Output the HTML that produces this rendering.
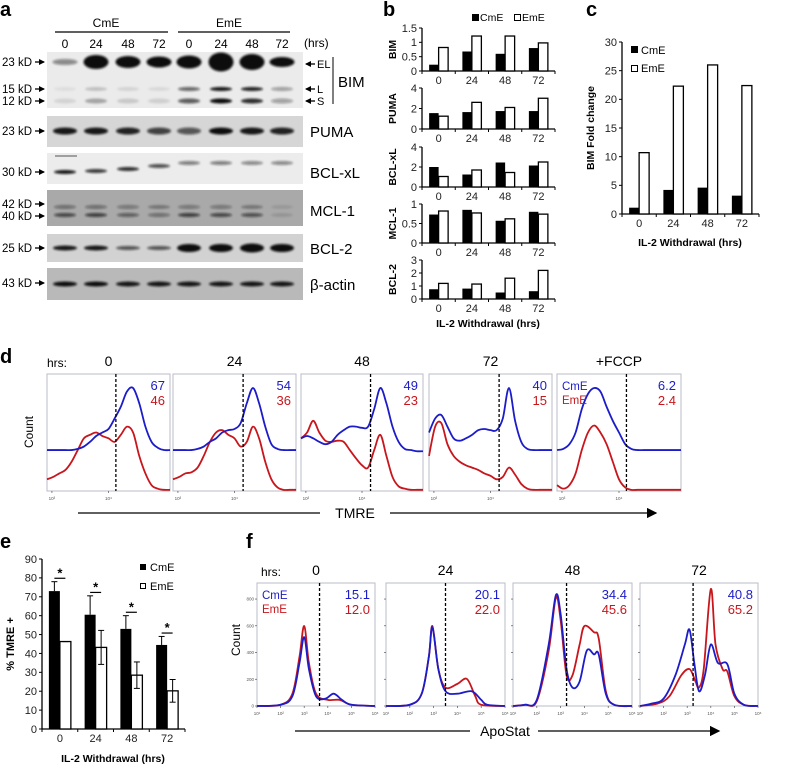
<!DOCTYPE html>
<html><head><meta charset="utf-8">
<style>
html,body{margin:0;padding:0;background:#fff;}
svg{display:block;font-family:"Liberation Sans",Arial,sans-serif;}
</style></head>
<body>
<svg id="fig" width="787" height="768" viewBox="0 0 787 768" xmlns="http://www.w3.org/2000/svg">
<defs>
<filter id="blur" x="-50%" y="-100%" width="200%" height="300%"><feGaussianBlur stdDeviation="1.1"/></filter>
<marker id="arrowHead" markerWidth="8" markerHeight="8" refX="7" refY="4" orient="auto"><path d="M0,0 L8,4 L0,8 Z" fill="#000"/></marker>
<marker id="smallHead" markerWidth="6" markerHeight="6" refX="5" refY="3" orient="auto" markerUnits="userSpaceOnUse"><path d="M0,0 L6,3 L0,6 Z" fill="#000"/></marker>
</defs>
</svg>
<script>
// ---------- DATA ----------
const hours = ["0","24","48","72"];
// panel b
const bimCm = [0.22,0.68,0.6,0.8],  bimEm = [0.82,1.22,1.22,0.98];
const pumaCm = [1.55,1.65,1.75,1.75], pumaEm = [1.25,2.6,2.1,3.0];
const bclxlCm = [2.0,1.25,2.45,2.15], bclxlEm = [1.05,1.7,1.45,2.5];
const mcl1Cm = [0.73,0.85,0.57,0.8], mcl1Em = [0.82,0.77,0.62,0.74];
const bcl2Cm = [0.75,0.8,0.5,0.6], bcl2Em = [1.2,1.15,1.6,2.2];
const bimTicks = [0,0.5,1,1.5], bimTickLabels = ["0","0.5","1","1.5"];
const pumaTicks = [0,2,4], pumaTickLabels = ["0","2","4"];
const bclxlTicks = [0,2,4], bclxlTickLabels = ["0","2","4"];
const mcl1Ticks = [0,0.5,1], mcl1TickLabels = ["0","0.5","1"];
const bcl2Ticks = [0,1,2,3], bcl2TickLabels = ["0","1","2","3"];
// panel c
const foldCm = [1.1,4.2,4.6,3.2], foldEm = [10.7,22.3,26,22.4];
const foldTicks = [0,5,10,15,20,25,30], foldTickLabels = ["0","5","10","15","20","25","30"];
// panel e
const tmreCm = [73,60.5,53,44.5], tmreCmErr = [5,10,7,4.5];
const tmreEm = [46.3,43.2,28.5,20.2], tmreEmErr = [0,9,7,6];
const tmreTicks = [0,10,20,30,40,50,60,70,80,90], tmreTickLabels = ["0","10","20","30","40","50","60","70","80","90"];
// panel d
const dTitles = ["0","24","48","72","+FCCP"];
const dCmPct = ["67","54","49","40","6.2"], dEmPct = ["46","36","23","15","2.4"];
const dGate = [0.56,0.57,0.57,0.57,0.56];
const dBlue0 = [0.35,0.35,0.35,0.35,0.35,0.36,0.38,0.42,0.47,0.5,0.53,0.62,0.72,0.85,0.88,0.75,0.55,0.42,0.37,0.35,0.35];
const dRed0  = [0.1,0.12,0.15,0.18,0.25,0.35,0.45,0.48,0.5,0.47,0.45,0.42,0.48,0.55,0.5,0.3,0.15,0.05,0.02,0.01,0.01];
const dBlue24= [0.35,0.35,0.35,0.35,0.36,0.38,0.42,0.45,0.5,0.52,0.53,0.58,0.75,0.88,0.75,0.55,0.4,0.36,0.35,0.35,0.35];
const dRed24 = [0.1,0.12,0.15,0.16,0.2,0.3,0.42,0.5,0.52,0.48,0.45,0.38,0.42,0.55,0.45,0.25,0.1,0.03,0.01,0.01,0.01];
const dBlue48= [0.45,0.47,0.45,0.42,0.4,0.42,0.48,0.52,0.55,0.55,0.54,0.55,0.7,0.88,0.75,0.55,0.42,0.36,0.35,0.34,0.34];
const dRed48 = [0.45,0.5,0.6,0.5,0.43,0.42,0.43,0.42,0.35,0.28,0.22,0.2,0.35,0.48,0.3,0.12,0.04,0.02,0.01,0.01,0.01];
const dBlue72= [0.5,0.62,0.65,0.55,0.45,0.43,0.45,0.48,0.52,0.53,0.52,0.52,0.62,0.88,0.6,0.42,0.36,0.35,0.35,0.35,0.35];
const dRed72 = [0.3,0.55,0.58,0.4,0.3,0.25,0.22,0.2,0.18,0.15,0.13,0.1,0.12,0.2,0.14,0.06,0.02,0.01,0.01,0.01,0.01];
const dBlueF = [0.35,0.36,0.4,0.5,0.7,0.83,0.88,0.85,0.72,0.6,0.5,0.4,0.36,0.35,0.35,0.35,0.35,0.35,0.35,0.35,0.35];
const dRedF  = [0.05,0.02,0.05,0.15,0.35,0.5,0.56,0.5,0.4,0.25,0.1,0.03,0.01,0.01,0.01,0.01,0.01,0.01,0.01,0.01,0.01];
// panel f
const fTitles = ["0","24","48","72"];
const fCmPct = ["15.1","20.1","34.4","40.8"], fEmPct = ["12.0","22.0","45.6","65.2"];
const fGate = [0.53,0.5,0.45,0.45];
const fBlue0 = [[0,0],[0.2,0.01],[0.3,0.08],[0.36,0.35],[0.4,0.56],[0.44,0.3],[0.5,0.08],[0.58,0.06],[0.65,0.1],[0.72,0.05],[0.8,0.01],[1,0]];
const fRed0  = [[0,0],[0.2,0.01],[0.3,0.1],[0.36,0.4],[0.4,0.65],[0.44,0.35],[0.5,0.1],[0.6,0.05],[0.7,0.05],[0.8,0.01],[1,0]];
const fBlue24= [[0,0],[0.2,0.01],[0.3,0.1],[0.36,0.4],[0.39,0.64],[0.44,0.3],[0.5,0.12],[0.6,0.1],[0.72,0.12],[0.8,0.05],[0.85,0.01],[1,0]];
const fRed24 = [[0,0],[0.2,0.01],[0.3,0.1],[0.36,0.4],[0.39,0.65],[0.44,0.3],[0.5,0.15],[0.6,0.18],[0.68,0.22],[0.75,0.08],[0.8,0.01],[1,0]];
const fBlue48= [[0,0],[0.1,0.01],[0.2,0.05],[0.3,0.5],[0.36,0.9],[0.4,0.75],[0.45,0.3],[0.5,0.15],[0.56,0.2],[0.62,0.45],[0.68,0.42],[0.72,0.42],[0.78,0.1],[0.85,0.01],[1,0]];
const fRed48 = [[0,0],[0.1,0.01],[0.2,0.04],[0.3,0.45],[0.36,0.88],[0.4,0.7],[0.45,0.25],[0.5,0.25],[0.56,0.5],[0.6,0.65],[0.68,0.6],[0.72,0.55],[0.78,0.12],[0.85,0.01],[1,0]];
const fBlue72= [[0,0],[0.1,0.02],[0.2,0.06],[0.3,0.25],[0.38,0.5],[0.42,0.62],[0.46,0.35],[0.5,0.12],[0.55,0.25],[0.6,0.5],[0.66,0.35],[0.74,0.34],[0.8,0.1],[0.88,0.01],[1,0]];
const fRed72 = [[0,0],[0.15,0.02],[0.25,0.08],[0.35,0.25],[0.42,0.3],[0.47,0.2],[0.5,0.15],[0.54,0.3],[0.6,0.95],[0.64,0.5],[0.7,0.3],[0.74,0.28],[0.8,0.08],[0.88,0.01],[1,0]];
// panel a
const laneLabels = ["0","24","48","72","0","24","48","72"];
const bimEL = [0.45,1,1,1,1,1,1,1], bimELh = [6,14,12,11,13,19,16,10];
const bimL = [0.06,0.18,0.1,0.08,0.6,0.95,0.9,0.35];
const bimS = [0.1,0.3,0.15,0.12,0.65,1,0.85,0.35];
const puma = [0.95,0.95,0.9,0.75,0.65,1,0.95,0.9];
const bclxl = [0.95,0.8,0.85,0.7,0.5,0.5,0.45,0.45];
const mcl42 = [0.4,0.4,0.35,0.3,0.35,0.35,0.3,0.1];
const mcl40 = [0.65,0.7,0.5,0.4,0.7,0.65,0.6,0.12];
const bcl2 = [0.95,0.95,0.65,0.65,1,1,1,1];
const actin = [1,1,0.95,0.95,0.95,0.95,0.95,0.95];

// ---------- HELPERS ----------
const NS = "http://www.w3.org/2000/svg";
const svg = document.getElementById("fig");
function mk(tag, attrs, parent){
  const e = document.createElementNS(NS, tag);
  for (const k in attrs) e.setAttribute(k, attrs[k]);
  (parent || svg).appendChild(e);
  return e;
}
function txt(x,y,s,size,opts,parent){
  const o = Object.assign({x:x,y:y,"font-size":size,fill:"#000"}, opts||{});
  const t = mk("text", o, parent);
  t.textContent = s;
  return t;
}
function group(name){
  const g = mk("g", {});
  
  
  return g;
}

[["a",0,16],["b",383,16],["c",586,16],["d",0,363],["e",0,548],["f",246,548]].forEach(p=>{
  const t = txt(p[1],p[2],p[0],20,{"font-weight":"bold"});
  
  
});

// ---------- PANEL A ----------
(function(){
  const g = group("western-blot-panel");
  const laneX = [65,96,128,159,189,221,252,282];
  txt(106,27,"CmE",12,{"text-anchor":"middle"},g);
  txt(229,27,"EmE",12,{"text-anchor":"middle"},g);
  mk("line",{x1:55,y1:32,x2:168,y2:32,stroke:"#000","stroke-width":1.2},g);
  mk("line",{x1:178,y1:32,x2:290,y2:32,stroke:"#000","stroke-width":1.2},g);
  laneLabels.forEach((l,i)=>txt(laneX[i],48,l,12,{"text-anchor":"middle"},g));
  txt(304,47,"(hrs)",12,{},g);
  function blot(name,y0,y1,bg){
    const r = mk("rect",{x:47,y:y0,width:256,height:y1-y0,fill:bg},g);
    
    
  }
  function bands(vals,yc,h,w,ys){
    vals.forEach((v,i)=>{
      const hh = Array.isArray(h)? h[i] : h;
      const y = Array.isArray(ys)? ys[i] : yc;
      const e = mk("ellipse",{cx:laneX[i],cy:y,rx:w/2,ry:hh/2,fill:"#111","fill-opacity":v,filter:"url(#blur)"},g);
      
      
    });
  }
  function marker(label,y){
    txt(2,y+4,label,11.5,{},g);
    mk("line",{x1:35,y1:y,x2:44,y2:y,stroke:"#000","stroke-width":1.3,"marker-end":"url(#smallHead)"},g);
  }
  blot("bim-blot",52,108,"#ebebeb");
  bands(bimEL,62,bimELh,25);
  bands(bimL,89,4,22);
  bands(bimS,101,5,22);
  marker("23 kD",62); marker("15 kD",89); marker("12 kD",101);
  [["EL",64],["L",89],["S",101]].forEach(p=>{
    mk("line",{x1:315,y1:p[1],x2:306,y2:p[1],stroke:"#000","stroke-width":1.3,"marker-end":"url(#smallHead)"},g);
    txt(317,p[1]+4,p[0],11,{},g);
  });
  mk("line",{x1:333,y1:57,x2:333,y2:104,stroke:"#000","stroke-width":1},g);
  txt(338,87,"BIM",15,{},g);

  blot("puma-blot",116,147,"#d6d6d6");
  bands(puma,131,7,24);
  marker("23 kD",131); txt(310,137,"PUMA",15,{},g);

  blot("bclxl-blot",153,184,"#ececec");
  bands(bclxl,0,4,22,[172,171,169,166,163,163,163,163]);
  mk("line",{x1:55,y1:156,x2:77,y2:156,stroke:"#555","stroke-width":1},g);
  marker("30 kD",172); txt(310,178,"BCL-xL",15,{},g);

  blot("mcl1-blot",190,226,"#a9a9a9");
  bands(mcl42,207,4,22); bands(mcl40,215,4,22);
  marker("42 kD",204); marker("40 kD",216); txt(310,216,"MCL-1",15,{},g);

  blot("bcl2-blot",234,262,"#d2d2d2");
  bands(bcl2,248,[5,5,4,4,8,8,9,8],24);
  marker("25 kD",248); txt(310,254,"BCL-2",15,{},g);

  blot("actin-blot",268,300,"#b9b9b9");
  bands(actin,284,5,24);
  marker("43 kD",283); txt(310,290,"β-actin",15,{},g);
})();

// ---------- BAR CHART HELPER ----------
function barChart(o){
  const g = group(o.name);
  const yScale = v => o.y0 - (v/o.max)*(o.y0-o.yTop);
  const cw = (o.x1-o.x0)/o.cats.length;
  const xC = i => o.x0 + cw*(i+0.5);
  mk("line",{x1:o.x0,y1:o.yTop,x2:o.x0,y2:o.y0,stroke:"#000","stroke-width":1.3},g);
  mk("line",{x1:o.x0,y1:o.y0,x2:o.x1,y2:o.y0,stroke:"#000","stroke-width":1.3},g);
  o.ticks.forEach((t,i)=>{
    const y = yScale(t);
    mk("line",{x1:o.x0-3,y1:y,x2:o.x0,y2:y,stroke:"#000","stroke-width":1},g);
    txt(o.x0-5,y+o.fs*0.35,o.tickLabels[i],o.fs,{"text-anchor":"end",fill:"#222"},g);
  });
  for(let i=0;i<=o.cats.length;i++){
    mk("line",{x1:o.x0+cw*i,y1:o.y0,x2:o.x0+cw*i,y2:o.y0+3,stroke:"#000","stroke-width":1},g);
  }
  o.cats.forEach((c,i)=>{
    txt(xC(i),o.y0+o.fs+2,c,o.fs,{"text-anchor":"middle",fill:"#222"},g);
    const b1 = mk("rect",{x:xC(i)-o.bw,y:yScale(o.cm[i]),width:o.bw,height:o.y0-yScale(o.cm[i]),fill:"#000"},g);
    
    
    const b2 = mk("rect",{x:xC(i),y:yScale(o.em[i]),width:o.bw,height:o.y0-yScale(o.em[i]),fill:"#fff",stroke:"#000","stroke-width":1.3},g);
    
    
    if(o.cmErr){
      const xa = xC(i)-o.bw/2, ya = yScale(o.cm[i]), yb = yScale(o.cm[i]+o.cmErr[i]);
      mk("line",{x1:xa,y1:ya,x2:xa,y2:yb,stroke:"#000","stroke-width":1},g);
      mk("line",{x1:xa-3,y1:yb,x2:xa+3,y2:yb,stroke:"#000","stroke-width":1},g);
      const xe = xC(i)+o.bw/2, ye1 = yScale(o.em[i]-o.emErr[i]), ye2 = yScale(o.em[i]+o.emErr[i]);
      mk("line",{x1:xe,y1:ye1,x2:xe,y2:ye2,stroke:"#000","stroke-width":1},g);
      mk("line",{x1:xe-3,y1:ye1,x2:xe+3,y2:ye1,stroke:"#000","stroke-width":1},g);
      mk("line",{x1:xe-3,y1:ye2,x2:xe+3,y2:ye2,stroke:"#000","stroke-width":1},g);
      const ys = yScale(o.cm[i]+o.cmErr[i]+1.8);
      mk("line",{x1:xa,y1:ys,x2:xe,y2:ys,stroke:"#000","stroke-width":1.2},g);
      txt((xa+xe)/2,ys-1,"*",13,{"text-anchor":"middle","font-weight":"bold"},g);
    }
  });
  if(o.ylabel){
    const cy = (o.yTop+o.y0)/2;
    const t = txt(o.ylx,cy,o.ylabel,o.ylfs||10.5,{"text-anchor":"middle","font-weight":"bold",transform:`rotate(-90 ${o.ylx} ${cy})`},g);
    
    
  }
  return g;
}

// ---------- PANEL B ----------
const bSpecs = [
 ["bim-chart",28,71,1.5,bimCm,bimEm,bimTicks,bimTickLabels,"BIM"],
 ["puma-chart",88,129,4,pumaCm,pumaEm,pumaTicks,pumaTickLabels,"PUMA"],
 ["bclxl-chart",147,187,4,bclxlCm,bclxlEm,bclxlTicks,bclxlTickLabels,"BCL-xL"],
 ["mcl1-chart",204,243,1,mcl1Cm,mcl1Em,mcl1Ticks,mcl1TickLabels,"MCL-1"],
 ["bcl2-chart",260,299,3,bcl2Cm,bcl2Em,bcl2Ticks,bcl2TickLabels,"BCL-2"]];
bSpecs.forEach(s=>barChart({name:s[0],x0:422,x1:555,yTop:s[1],y0:s[2],max:s[3],cm:s[4],em:s[5],ticks:s[6],tickLabels:s[7],cats:hours,bw:9.5,fs:11,ylabel:s[8],ylx:396,ylfs:10.5}));
(function(){
  const g = group("panel-b-legend");
  mk("rect",{x:472,y:14,width:7,height:7,fill:"#000"},g); txt(480,21,"CmE",10.5,{},g);
  mk("rect",{x:514.5,y:14.5,width:6,height:6,fill:"#fff",stroke:"#000"},g); txt(522,21,"EmE",10.5,{},g);
  const t = txt(488,327,"IL-2 Withdrawal (hrs)",10.5,{"text-anchor":"middle","font-weight":"bold"},g);
  
  
})();

// ---------- PANEL C ----------
barChart({name:"bim-fold-chart",x0:622,x1:759,yTop:42,y0:214,max:30,cm:foldCm,em:foldEm,ticks:foldTicks,tickLabels:foldTickLabels,cats:hours,bw:10,fs:11,ylabel:"BIM Fold change",ylx:594,ylfs:10.5});
(function(){
  const g = group("panel-c-legend");
  mk("rect",{x:631,y:46,width:7,height:7,fill:"#000"},g); txt(641,54,"CmE",11,{},g);
  mk("rect",{x:631.5,y:65.5,width:6,height:6,fill:"#fff",stroke:"#000"},g); txt(641,72,"EmE",11,{},g);
  txt(690,246,"IL-2 Withdrawal (hrs)",10.5,{"text-anchor":"middle","font-weight":"bold"},g);
})();

// ---------- PANEL E ----------
barChart({name:"tmre-percent-chart",x0:42,x1:185,yTop:559,y0:729,max:90,cm:tmreCm,em:tmreEm,cmErr:tmreCmErr,emErr:tmreEmErr,ticks:tmreTicks,tickLabels:tmreTickLabels,cats:hours,bw:11,fs:11,ylabel:"% TMRE +",ylx:14,ylfs:11});
(function(){
  const g = group("panel-e-legend");
  mk("rect",{x:140,y:564,width:6,height:6,fill:"#000"},g); txt(150,571,"CmE",11,{},g);
  mk("rect",{x:140.5,y:583.5,width:5,height:5,fill:"#fff",stroke:"#000"},g); txt(150,590,"EmE",11,{},g);
  txt(113,762,"IL-2 Withdrawal (hrs)",10.5,{"text-anchor":"middle","font-weight":"bold"},g);
})();

// ---------- HISTOGRAM HELPER ----------
function smoothPath(pts){
  let d = `M${pts[0][0]},${pts[0][1]}`;
  for(let i=0;i<pts.length-1;i++){
    const p0 = pts[i-1]||pts[i], p1 = pts[i], p2 = pts[i+1], p3 = pts[i+2]||p2;
    const c1 = [p1[0]+(p2[0]-p0[0])/6, p1[1]+(p2[1]-p0[1])/6];
    const c2 = [p2[0]-(p3[0]-p1[0])/6, p2[1]-(p3[1]-p1[1])/6];
    d += ` C${c1[0]},${c1[1]} ${c2[0]},${c2[1]} ${p2[0]},${p2[1]}`;
  }
  return d;
}
function histo(o){
  const g = group(o.name);
  const w = o.x1-o.x0, h = o.y1-o.y0;
  mk("rect",{x:o.x0,y:o.y0,width:w,height:h,fill:"#fff",stroke:"#b8bcc8","stroke-width":1},g);
  const sx = f => o.x0 + f*w, sy = f => o.y1 - f*h;
  [[o.red,"#c8161d","red-histogram"],[o.blue,"#1c1cc8","blue-histogram"]].forEach(c=>{
    const arr = c[0];
    const pts = arr.map((v,i)=> Array.isArray(v) ? [sx(v[0]),sy(v[1])] : [sx(i/(arr.length-1)),sy(v)]);
    const p = mk("path",{d:smoothPath(pts),fill:"none",stroke:c[1],"stroke-width":1.8,"stroke-linejoin":"round"},g);
    
    
  });
  mk("line",{x1:sx(o.gate),y1:o.y0,x2:sx(o.gate),y2:o.y1,stroke:"#000","stroke-width":1.3,"stroke-dasharray":"3,2"},g);
  txt(o.x0+w/2,o.y0-8,o.title,14,{"text-anchor":"middle"},g);
  txt(o.x1-5,o.y0+16,o.cmPct,13,{"text-anchor":"end",fill:"#1c1cc8"},g);
  txt(o.x1-5,o.y0+31,o.emPct,13,{"text-anchor":"end",fill:"#c8161d"},g);
  o.xTicks.forEach((t,i)=>{
    const x = sx(t);
    mk("line",{x1:x,y1:o.y1,x2:x,y2:o.y1+2,stroke:"#555","stroke-width":0.7},g);
    txt(x,o.y1+9,o.xTickLabels[i],4.5,{"text-anchor":"middle",fill:"#555"},g);
  });
  if(o.legend){
    txt(o.x0+5,o.y0+16,"CmE",11.5,{fill:"#1c1cc8"},g);
    txt(o.x0+5,o.y0+30,"EmE",11.5,{fill:"#c8161d"},g);
  }
  if(o.yTicks){
    o.yTicks.forEach((t,i)=>{
      const y = o.y1 - t/o.yMax*h;
      mk("line",{x1:o.x0-2,y1:y,x2:o.x0,y2:y,stroke:"#555","stroke-width":0.7},g);
      if(o.yTickLabels) txt(o.x0-3,y+1.5,o.yTickLabels[i],4.5,{"text-anchor":"end",fill:"#555"},g);
    });
  }
}

// ---------- PANEL D ----------
const dBoxes = [[47,170],[173,296],[301,423],[429,552],[557,681]];
const dBlues = [dBlue0,dBlue24,dBlue48,dBlue72,dBlueF], dReds = [dRed0,dRed24,dRed48,dRed72,dRedF];
dBoxes.forEach((b,i)=>histo({name:"tmre-histogram-"+i,x0:b[0],x1:b[1],y0:374,y1:491,blue:dBlues[i],red:dReds[i],gate:dGate[i],title:dTitles[i],cmPct:dCmPct[i],emPct:dEmPct[i],xTicks:[0.04,0.5],xTickLabels:["10³","10⁴"],legend:i===4}));
txt(47,367,"hrs:",12,{});
(function(){
  const g = group("tmre-axis");
  txt(33,432,"Count",12,{"text-anchor":"middle",transform:"rotate(-90 33 432)"},g);
  mk("line",{x1:78,y1:513,x2:320,y2:513,stroke:"#000","stroke-width":1.3},g);
  txt(355,518,"TMRE",14,{"text-anchor":"middle"},g);
  mk("line",{x1:390,y1:513,x2:656,y2:513,stroke:"#000","stroke-width":1.3,"marker-end":"url(#arrowHead)"},g);
})();

// ---------- PANEL F ----------
const fBoxes = [[257,375],[386,505],[513,632],[640,758]];
const fBlues = [fBlue0,fBlue24,fBlue48,fBlue72], fReds = [fRed0,fRed24,fRed48,fRed72];
fBoxes.forEach((b,i)=>histo({name:"apostat-histogram-"+i,x0:b[0],x1:b[1],y0:583,y1:706,blue:fBlues[i],red:fReds[i],gate:fGate[i],title:fTitles[i],cmPct:fCmPct[i],emPct:fEmPct[i],xTicks:[0,0.2,0.4,0.6,0.8,1],xTickLabels:["10¹","10²","10³","10⁴","10⁵","10⁶"],legend:i===0,yTicks:[0,200,400,600,800],yMax:920,yTickLabels:i===0?["0","200","400","600","800"]:null}));
txt(261,576,"hrs:",12,{});
(function(){
  const g = group("apostat-axis");
  txt(240,640,"Count",12,{"text-anchor":"middle",transform:"rotate(-90 240 640)"},g);
  mk("line",{x1:295,y1:731,x2:470,y2:731,stroke:"#000","stroke-width":1.3},g);
  txt(505,736,"ApoStat",14,{"text-anchor":"middle"},g);
  mk("line",{x1:538,y1:731,x2:719,y2:731,stroke:"#000","stroke-width":1.3,"marker-end":"url(#arrowHead)"},g);
})();
</script>
</body></html>
